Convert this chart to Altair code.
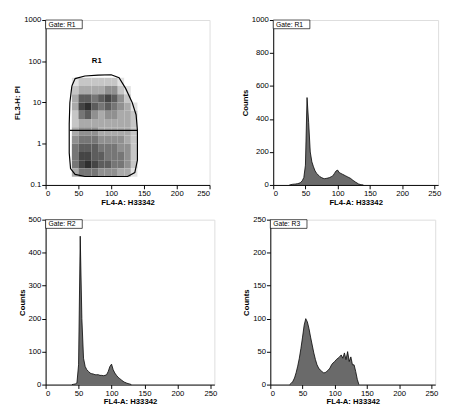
import altair as alt
import pandas as pd

# ---------------- data ----------------
# Dot-plot (top-left) density grid: columns of FL-A1 (left edges), rows of log10(PI) (lower edges)
dens_x = [40, 50, 60, 70, 80, 90, 100, 110, 120, 130]
dens_ylog = [1.4, 1.2, 1.0, 0.8, 0.6, 0.4, 0.2, 0.0, -0.2, -0.4, -0.6, -0.8]
dens_vals = [
    [1, 2, 2, 2, 2, 2, 2, 1, 0, 0],
    [2, 3, 3, 3, 3, 4, 4, 2, 1, 0],
    [3, 6, 6, 5, 6, 7, 6, 4, 2, 0],
    [3, 7, 8, 6, 5, 6, 5, 4, 3, 1],
    [2, 5, 6, 4, 3, 4, 4, 3, 3, 2],
    [2, 3, 3, 3, 3, 3, 3, 3, 3, 2],
    [3, 4, 4, 4, 3, 3, 3, 3, 3, 2],
    [4, 5, 5, 5, 4, 4, 4, 4, 3, 2],
    [5, 6, 6, 6, 5, 5, 5, 4, 4, 2],
    [5, 7, 7, 6, 6, 5, 5, 5, 4, 2],
    [5, 7, 8, 7, 6, 6, 5, 5, 4, 2],
    [3, 5, 5, 5, 4, 4, 4, 3, 3, 1],
]

# Gate R1 outline
gate_x = [40, 45, 60, 80, 100, 112, 122, 132, 138, 140, 140, 136, 125, 60, 45, 38, 36, 36, 37, 40]
gate_y = [25, 38, 44, 46, 47, 40, 22, 10, 5, 2.1, 0.4, 0.2, 0.16, 0.16, 0.18, 0.25, 0.6, 3, 10, 25]
split_y = 2.1

# Histograms
r1_x = [25 + 2.5 * i for i in range(47)]
r1_c = [0, 2, 4, 5, 6, 8, 10, 15, 25, 45, 120, 530, 380, 200, 140, 110, 85, 70, 60, 50,
        45, 40, 38, 40, 42, 45, 50, 55, 70, 85, 90, 75, 70, 65, 60, 55, 50, 45, 40, 32,
        25, 18, 12, 6, 3, 1, 0]

r2_x = [40 + 2.5 * i for i in range(37)]
r2_c = [0, 1, 2, 5, 60, 450, 200, 80, 55, 45, 40, 35, 33, 32, 30, 30, 30, 28, 28, 27,
        28, 30, 40, 55, 62, 45, 35, 28, 22, 18, 14, 10, 7, 5, 3, 2, 0]

r3_x = [30 + 2.5 * i for i in range(44)]
r3_c = [0, 2, 5, 10, 18, 28, 40, 55, 72, 90, 100, 95, 85, 72, 60, 48, 38, 30, 25, 22,
        20, 18, 18, 20, 22, 25, 30, 33, 35, 38, 40, 42, 45, 40, 48, 38, 50, 35, 42, 30,
        30, 20, 8, 0]

x_ticks = [0, 50, 100, 150, 200, 250]
x_title = "FL4-A: H33342"
y_title_dot = "FL3-H: PI"
dot_y_ticks = [0.1, 1, 10, 100, 1000]

FONT = "Liberation Sans"
H = 171

# ---------------- helpers ----------------
def xaxis():
    return alt.Axis(values=x_ticks, title=x_title, grid=False, labelFontSize=8,
                    titleFontSize=8, titleFontWeight="bold", tickSize=4, titlePadding=1,
                    labelPadding=1, domainColor="black", tickColor="black",
                    labelOverlap=False, format="d")


def yaxis(vals, title, fmt="d"):
    return alt.Axis(values=vals, title=title, grid=False, labelFontSize=8, titleFontSize=8,
                    titleFontWeight="bold", tickSize=4, titlePadding=2, labelPadding=1,
                    domainColor="black", tickColor="black", labelOverlap=False, format=fmt)


def gate_label(txt):
    base = alt.Chart(pd.DataFrame({"t": [txt]}))
    box = base.mark_rect(fill="white", stroke="black", strokeWidth=0.7).encode(
        x=alt.value(0), x2=alt.value(38), y=alt.value(0), y2=alt.value(9))
    t = base.mark_text(align="left", baseline="middle", fontSize=7, font=FONT).encode(
        x=alt.value(3), y=alt.value(5), text="t:N")
    return box + t


# ---------------- top-left dot plot ----------------
rows = []
for ri, yl in enumerate(dens_ylog):
    for ci, xl in enumerate(dens_x):
        rows.append({"x": xl, "x2": xl + 10, "y": 10 ** yl, "y2": 10 ** (yl + 0.2),
                     "d": dens_vals[ri][ci]})
dens_df = pd.DataFrame(rows)

xs = alt.Scale(domain=[0, 250], nice=False)
ys_log = alt.Scale(type="log", domain=[0.1, 1000], nice=False)


def dx(field="x"):
    return alt.X(f"{field}:Q", scale=xs, axis=xaxis())


def dy(field="y"):
    return alt.Y(f"{field}:Q", scale=ys_log, axis=yaxis(dot_y_ticks, y_title_dot, "~g"))


heat = alt.Chart(dens_df).mark_rect().encode(
    x=dx(), x2="x2:Q", y=dy(), y2="y2:Q",
    color=alt.Color("d:Q", scale=alt.Scale(domain=[0, 9], range=["#ffffff", "#1a1a1a"]),
                    legend=None),
)

gate_df = pd.DataFrame({"x": gate_x, "y": gate_y, "o": list(range(len(gate_x)))})
gate = alt.Chart(gate_df).mark_line(color="black", strokeWidth=1.2).encode(
    x=dx(), y=dy(), order="o:Q")

split = alt.Chart(pd.DataFrame({"x": [37], "x2": [140], "y": [split_y]})).mark_rule(
    color="black", strokeWidth=1.2).encode(x=dx(), x2="x2:Q", y=dy())

r1lab = alt.Chart(pd.DataFrame({"x": [78], "y": [100], "t": ["R1"]})).mark_text(
    fontSize=8, fontWeight="bold", font=FONT).encode(x=dx(), y=dy(), text="t:N")

tl = alt.layer(heat, gate, split, r1lab, gate_label("Gate: R1")).properties(width=170, height=H)


# ---------------- histograms ----------------
def hist(xv, cv, ymax, step, gate_txt, w):
    df = pd.DataFrame({"x": xv, "c": cv})
    area = alt.Chart(df).mark_area(color="#2b2b2b", line={"color": "black", "strokeWidth": 0.8}).encode(
        x=alt.X("x:Q", scale=alt.Scale(domain=[0, 256], nice=False), axis=xaxis()),
        y=alt.Y("c:Q", scale=alt.Scale(domain=[0, ymax], nice=False),
                axis=yaxis(list(range(0, ymax + 1, step)), "Counts")),
    )
    return alt.layer(area, gate_label(gate_txt)).properties(width=w, height=H)


tr = hist(r1_x, r1_c, 1000, 200, "Gate: R1", 171)
bl = hist(r2_x, r2_c, 500, 100, "Gate: R2", 175)
br = hist(r3_x, r3_c, 250, 50, "Gate: R3", 171)

chart = alt.vconcat(
    alt.hconcat(tl, tr, spacing=31),
    alt.hconcat(bl, br, spacing=25),
    spacing=8,
).properties(
    padding={"left": 5, "top": 0, "right": 0, "bottom": 0}
).configure_view(stroke="black", strokeWidth=1).configure_axis(
    labelFont=FONT, titleFont=FONT, labelColor="black", titleColor="black"
).configure(background="white")

chart.save("out.html", embed_options={"renderer": "svg", "actions": False})
